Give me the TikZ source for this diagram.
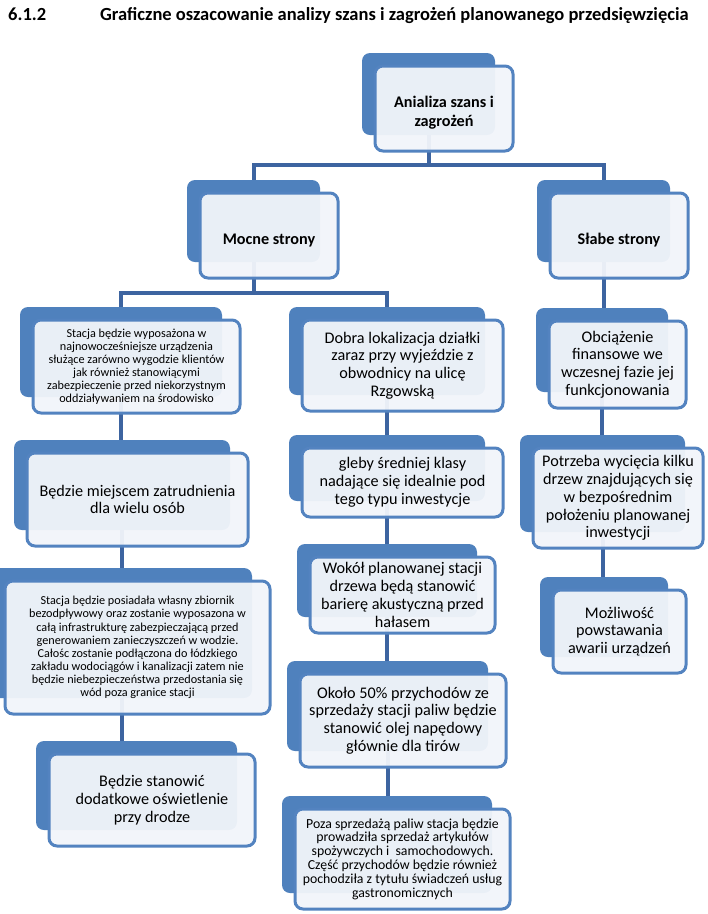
\documentclass[tikz,border=0pt]{standalone}
\usepackage{fontspec}
\setmainfont{Carlito}
\definecolor{backblue}{HTML}{4F81BD}
\definecolor{frontline}{HTML}{5383C0}
\definecolor{frontfill}{HTML}{F2F5FA}
\definecolor{connblue}{HTML}{3D64A0}
\pgfdeclarelayer{bg}
\pgfsetlayers{bg,main}
\tikzset{
  backbox/.style={fill=backblue,draw=none,rounded corners=8pt,inner sep=0pt,outer sep=0pt},
  frontbox/.style={fill=frontfill,fill opacity=0.95,text opacity=1,draw=frontline,line width=3pt,rounded corners=8pt,inner sep=3pt,outer sep=0pt,align=center,text=black},
  conn/.style={draw=connblue,line width=4pt},
  hdr/.style={font=\bfseries\fontsize{16.2}{19.5}\selectfont},
  big/.style={font=\fontsize{16.2}{17.8}\selectfont},
  small/.style={font=\fontsize{12.2}{13.1}\selectfont},
  mid/.style={font=\fontsize{13.8}{13.8}\selectfont},
  ttl/.style={font=\bfseries\fontsize{18.5}{20}\selectfont,inner sep=0pt,anchor=base west}
}
\newcommand{\hstrut}{\rule{0pt}{20pt}}
\newcommand{\boxpair}[7]{%
  \pgfmathsetmacro\bw{#4-#2}\pgfmathsetmacro\bh{#5-#3}%
  \pgfmathsetmacro\bcx{(#2+#4)/2}\pgfmathsetmacro\bcy{(#3+#5)/2}%
  \pgfmathsetmacro\fw{\bw+5}\pgfmathsetmacro\fh{\bh+3}%
  \pgfmathsetmacro\fcx{\bcx+15.5}\pgfmathsetmacro\fcy{\bcy+14.5}%
  \node[backbox,minimum width=\bw pt,minimum height=\bh pt] (#1B) at (\bcx,\bcy) {};%
  \node[frontbox,minimum width=\fw pt,minimum height=\fh pt,#6] (#1F) at (\fcx,\fcy) {#7};%
}
\begin{document}
\begin{tikzpicture}[x=1pt,y=-1pt]
\useasboundingbox (0,0) rectangle (708,914);
\begin{scope}
\clip (0,0) rectangle (708,914);
\node[ttl] (num) at (8,20) {6.1.2};
\node[ttl] (title) at (100,20) {Graficzne oszacowanie analizy szans i zagrożeń planowanego przedsięwzięcia};

\boxpair{root}{362}{53}{495}{135}{hdr}{\hstrut Anializa szans i\\zagrożeń}
\boxpair{moc}{187}{180}{320}{262}{hdr}{\hstrut Mocne strony}
\boxpair{slab}{537}{180}{670}{262}{hdr}{\hstrut Słabe strony}

\boxpair{La}{20}{307}{222}{397}{small}{Stacja będzie wyposażona w\\najnowocześniejsze urządzenia\\służące zarówno wygodzie klientów\\jak również stanowiącymi\\zabezpieczenie przed niekorzystnym\\oddziaływaniem na środowisko}
\boxpair{Lb}{14}{440}{230}{530}{big}{Będzie miejscem zatrudnienia\\dla wielu osób}
\boxpair{Lc}{-8}{568}{252}{698}{small}{Stacja będzie posiadała własny zbiornik\\bezodpływowy oraz zostanie wyposazona w\\całą infrastrukturę zabezpieczającą przed\\generowaniem zanieczyszczeń w wodzie.\\Całośc zostanie podłączona do łódzkiego\\zakładu wodociągów i kanalizacji zatem nie\\będzie niebezpieczeństwa przedostania się\\wód poza granice stacji}
\boxpair{Ld}{36}{741}{237}{830}{big}{Będzie stanowić\\dodatkowe oświetlenie\\przy drodze}

\boxpair{Ma}{289}{307}{485}{395}{big}{Dobra lokalizacja działki\\zaraz przy wyjeździe z\\obwodnicy na ulicę\\Rzgowską}
\boxpair{Mb}{289}{435}{485}{501}{big}{gleby średniej klasy\\nadające się idealnie pod\\tego typu inwestycje}
\boxpair{Mc}{297}{544}{477}{617}{big}{Wokół planowanej stacji\\drzewa będą stanowić\\barierę akustyczną przed\\hałasem}
\boxpair{Md}{287}{661}{488}{751}{big}{Około 50\% przychodów ze\\sprzedaży stacji paliw będzie\\stanowić olej napędowy\\głównie dla tirów}
\boxpair{Me}{282}{796}{492}{893}{mid}{Poza sprzedażą paliw stacja będzie\\prowadziła sprzedaż artykułów\\spożywczych i \ samochodowych.\\Część przychodów będzie również\\pochodziła z tytułu świadczeń usług\\gastronomicznych}

\boxpair{Ra}{536}{308}{668}{392}{big}{Obciążenie\\finansowe we\\wczesnej fazie jej\\funkcjonowania}
\boxpair{Rb}{520}{435}{685}{532}{big}{Potrzeba wycięcia kilku\\drzew znajdujących się\\w bezpośrednim\\położeniu planowanej\\inwestycji}
\boxpair{Rc}{540}{577}{668}{657}{big}{Możliwość\\powstawania\\awarii urządzeń}

\begin{pgfonlayer}{bg}
\fill[white] (0,0) rectangle (708,914);
\draw[conn] (rootB.south) -- ++(0,30) -| (mocB.north);
\draw[conn] (rootB.south) -- ++(0,30) -| (slabB.north);
\draw[conn] (mocB.south) -- ++(0,31) -| (LaB.north);
\draw[conn] (mocB.south) -- ++(0,31) -| (MaB.north);
\draw[conn] (slabB.south) -- (slabB.south |- RaB.north);
\draw[conn] (LaB.south) -- (LaB.south |- LbB.north);
\draw[conn] (LbB.south) -- (LbB.south |- LcB.north);
\draw[conn] (LcB.south) -- (LcB.south |- LdB.north);
\draw[conn] (MaB.south) -- (MaB.south |- MbB.north);
\draw[conn] (MbB.south) -- (MbB.south |- McB.north);
\draw[conn] (McB.south) -- (McB.south |- MdB.north);
\draw[conn] (MdB.south) -- (MdB.south |- MeB.north);
\draw[conn] (RaB.south) -- (RaB.south |- RbB.north);
\draw[conn] (RbB.south) -- (RbB.south |- RcB.north);
\end{pgfonlayer}
\end{scope}
\end{tikzpicture}
\end{document}
